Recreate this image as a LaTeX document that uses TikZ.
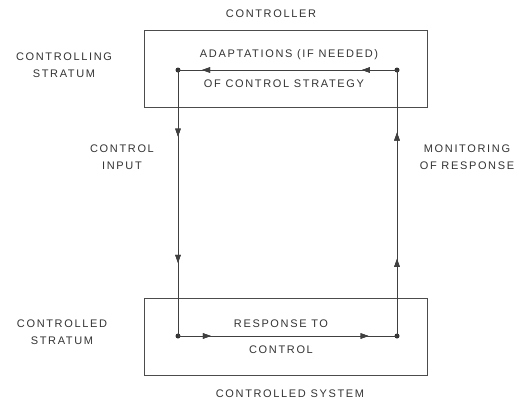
\documentclass[tikz,border=0pt]{standalone}
\usepackage{fontspec}
\newfontfamily\lblfont[LetterSpace=15]{Liberation Sans}
\usetikzlibrary{arrows.meta,decorations.markings}
\begin{document}
\begin{tikzpicture}[x=1pt,y=-1pt,
  lbl/.style={font=\lblfont\fontsize{11}{16.5}\selectfont, text=black!80, align=center, inner sep=0pt},
  frame/.style={draw=black!70, line width=0.7pt, minimum width=283pt, minimum height=77pt, inner sep=0pt},
  flow/.style={draw=black!75, line width=0.7pt},
  dot/.style={circle, fill=black!80, minimum size=5pt, inner sep=0pt},
  tip/.style={decoration={markings, mark=at position #1 with {\arrow{Triangle[length=8pt,width=5.5pt]}}}, postaction={decorate}}
]
\useasboundingbox (0,0) rectangle (523,402);
\node[frame] (ctrl) at (285.5,68.5) {};
\node[frame] (sys) at (285.5,336.5) {};
\node[dot] (tl) at (178,70) {};
\node[dot] (tr) at (397,70) {};
\node[dot] (bl) at (178,336) {};
\node[dot] (br) at (397,336) {};
% top line right to left
\path[flow, tip=0.16, tip=0.89] (tr.center) -- (tl.center);
% left vertical down
\path[flow, tip=0.25, tip=0.725] (tl.center) -- (bl.center);
% bottom line left to right
\path[flow, tip=0.15, tip=0.87] (bl.center) -- (br.center);
% right vertical up
\path[flow, tip=0.29, tip=0.765] (br.center) -- (tr.center);
\node[lbl] (tcontroller) at (271,14) {CONTROLLER};
\node[lbl] (tcstratum) at (64,65) {CONTROLLING\\STRATUM};
\node[lbl] (tadapt) at (289,55) {ADAPTATIONS (IF NEEDED)};
\node[lbl] (tstrat) at (284,84) {OF CONTROL STRATEGY};
\node[lbl] (tinput) at (122,157) {CONTROL\\INPUT};
\node[lbl] (tmon) at (467,157) {MONITORING\\OF RESPONSE};
\node[lbl] (tdstratum) at (62,332) {CONTROLLED\\STRATUM};
\node[lbl] (tresp) at (281,324) {RESPONSE TO};
\node[lbl] (tcontrol) at (281,350) {CONTROL};
\node[lbl] (tsystem) at (290,394) {CONTROLLED SYSTEM};
\end{tikzpicture}
\end{document}
